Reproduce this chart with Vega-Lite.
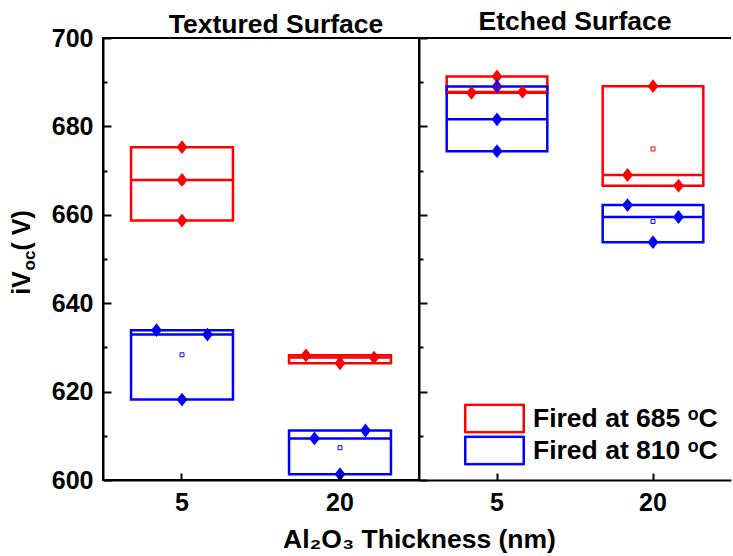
{
  "$schema": "https://vega.github.io/schema/vega-lite/v6.json",
  "padding": {"left": 8, "top": 8, "right": 0, "bottom": 0},
  "background": "white",
  "config": {
    "font": "Liberation Sans",
    "axis": {"grid": false, "labelColor": "black", "titleColor": "black", "domainColor": "black", "tickColor": "black", "domainWidth": 2, "tickWidth": 2}
  },
  "datasets": {
    "ivoc": [
      {"surface": "Textured", "thickness": "5", "fired": "685", "value": 675.3, "jitter": 0},
      {"surface": "Textured", "thickness": "5", "fired": "685", "value": 667.9, "jitter": 0},
      {"surface": "Textured", "thickness": "5", "fired": "685", "value": 658.7, "jitter": 0},
      {"surface": "Textured", "thickness": "5", "fired": "810", "value": 633.9, "jitter": -3},
      {"surface": "Textured", "thickness": "5", "fired": "810", "value": 632.9, "jitter": 3},
      {"surface": "Textured", "thickness": "5", "fired": "810", "value": 618.2, "jitter": 0},
      {"surface": "Textured", "thickness": "20", "fired": "685", "value": 628.2, "jitter": -4},
      {"surface": "Textured", "thickness": "20", "fired": "685", "value": 626.4, "jitter": 0},
      {"surface": "Textured", "thickness": "20", "fired": "685", "value": 627.7, "jitter": 4},
      {"surface": "Textured", "thickness": "20", "fired": "810", "value": 609.4, "jitter": -3},
      {"surface": "Textured", "thickness": "20", "fired": "810", "value": 611.2, "jitter": 3},
      {"surface": "Textured", "thickness": "20", "fired": "810", "value": 601.3, "jitter": 0},
      {"surface": "Etched", "thickness": "5", "fired": "685", "value": 691.3, "jitter": 0},
      {"surface": "Etched", "thickness": "5", "fired": "685", "value": 687.6, "jitter": -3},
      {"surface": "Etched", "thickness": "5", "fired": "685", "value": 687.8, "jitter": 3},
      {"surface": "Etched", "thickness": "5", "fired": "810", "value": 689.0, "jitter": 0},
      {"surface": "Etched", "thickness": "5", "fired": "810", "value": 681.6, "jitter": 0},
      {"surface": "Etched", "thickness": "5", "fired": "810", "value": 674.4, "jitter": 0},
      {"surface": "Etched", "thickness": "20", "fired": "685", "value": 689.1, "jitter": 0},
      {"surface": "Etched", "thickness": "20", "fired": "685", "value": 669.0, "jitter": -3},
      {"surface": "Etched", "thickness": "20", "fired": "685", "value": 666.6, "jitter": 3},
      {"surface": "Etched", "thickness": "20", "fired": "810", "value": 662.2, "jitter": -3},
      {"surface": "Etched", "thickness": "20", "fired": "810", "value": 659.5, "jitter": 3},
      {"surface": "Etched", "thickness": "20", "fired": "810", "value": 653.8, "jitter": 0}
    ]
  },
  "spacing": 0,
  "bounds": "flush",
  "resolve": {"scale": {"stroke": "independent", "fill": "independent"}, "legend": {"stroke": "independent", "fill": "independent"}},
  "hconcat": [
    {
      "width": 316,
      "height": 442,
      "title": {"text": "Textured Surface", "fontSize": 26.5, "fontWeight": "bold", "dx": 15, "offset": -12, "color": "black"},
      "view": {"stroke": "black", "strokeWidth": 2},
      "data": {"name": "ivoc"},
      "transform": [{"filter": "datum.surface === 'Textured'"}],
      "resolve": {"axis": {"y": "independent"}},
      "layer": [
        {
          "transform": [{"aggregate": [{"op": "min", "field": "value", "as": "vmin"}, {"op": "max", "field": "value", "as": "vmax"}], "groupby": ["thickness", "fired"]}],
          "mark": {"type": "rect", "fill": "transparent", "strokeWidth": 2.5},
          "encoding": {
            "x": {"field": "thickness", "type": "ordinal", "sort": ["5", "20"], "scale": {"type": "band", "paddingInner": 0.355, "paddingOuter": 0.1775},
              "axis": {"title": "Al₂O₃ Thickness (nm)", "titleFontSize": 26.5, "titleFontWeight": "bold", "titleX": 316, "titleY": 67, "titleAlign": "center", "titleBaseline": "alphabetic", "labelAngle": 0, "labelFontSize": 25, "labelFontWeight": "bold", "labelPadding": 17, "tickSize": -7}},
            "y": {"field": "vmin", "type": "quantitative", "scale": {"domain": [600, 700], "nice": false, "zero": false},
              "axis": {"title": "iV\u00a0\u00a0\u00a0( V)", "titleFontSize": 25, "titleFontWeight": "bold", "titleAngle": 270, "titleX": -74, "titleY": 214, "titleAlign": "center", "titleBaseline": "alphabetic",
                "values": [600, 610, 620, 630, 640, 650, 660, 670, 680, 690, 700], "labelExpr": "datum.value % 20 === 0 ? datum.label : ''",
                "labelFontSize": 25, "labelFontWeight": "bold", "labelPadding": 18,
                "tickSize": {"condition": {"test": "datum.value % 20 === 0", "value": -8}, "value": -4}}},
            "y2": {"field": "vmax"},
            "stroke": {"field": "fired", "type": "nominal", "scale": {"domain": ["685", "810"], "range": ["#ff0000", "#0000ff"]}, "legend": null}
          }
        },
        {
          "transform": [{"aggregate": [{"op": "median", "field": "value", "as": "vmed"}], "groupby": ["thickness", "fired"]}],
          "mark": {"type": "rect", "fill": "transparent", "strokeWidth": 2.5},
          "encoding": {
            "x": {"field": "thickness", "type": "ordinal", "sort": ["5", "20"]},
            "y": {"field": "vmed", "type": "quantitative", "axis": null},
            "y2": {"field": "vmed"},
            "stroke": {"field": "fired", "type": "nominal", "legend": null}
          }
        },
        {
          "mark": {"type": "point", "shape": "M0,-1.15L0.9,0L0,1.15L-0.9,0Z", "size": 144, "opacity": 1, "strokeWidth": 0, "xOffset": {"expr": "datum.jitter * 8.5"}},
          "encoding": {
            "x": {"field": "thickness", "type": "ordinal", "sort": ["5", "20"]},
            "y": {"field": "value", "type": "quantitative", "axis": null},
            "fill": {"field": "fired", "type": "nominal", "scale": {"domain": ["685", "810"], "range": ["#ff0000", "#0000ff"]}, "legend": null}
          }
        },
        {
          "transform": [{"aggregate": [{"op": "mean", "field": "value", "as": "vmean"}], "groupby": ["thickness", "fired"]}],
          "mark": {"type": "point", "shape": "square", "filled": false, "size": 16, "strokeWidth": 1, "opacity": 1},
          "encoding": {
            "x": {"field": "thickness", "type": "ordinal", "sort": ["5", "20"]},
            "y": {"field": "vmean", "type": "quantitative",
              "axis": {"orient": "right", "title": "oc", "labels": false, "ticks": false, "domain": false, "titleFontSize": 17, "titleFontWeight": "bold", "titleAngle": 270, "titleX": -385, "titleY": 222, "titleAlign": "center", "titleBaseline": "alphabetic"}},
            "stroke": {"field": "fired", "type": "nominal", "legend": null}
          }
        }
      ]
    },
    {
      "width": 312,
      "height": 442,
      "title": {"text": "Etched Surface", "fontSize": 26.5, "fontWeight": "bold", "offset": 2, "color": "black"},
      "view": {"stroke": null},
      "data": {"name": "ivoc"},
      "transform": [{"filter": "datum.surface === 'Etched'"}],
      "layer": [
        {
          "transform": [{"aggregate": [{"op": "min", "field": "value", "as": "vmin"}, {"op": "max", "field": "value", "as": "vmax"}], "groupby": ["thickness", "fired"]}],
          "mark": {"type": "rect", "fill": "transparent", "strokeWidth": 2.5},
          "encoding": {
            "x": {"field": "thickness", "type": "ordinal", "sort": ["5", "20"], "scale": {"type": "band", "paddingInner": 0.355, "paddingOuter": 0.1775},
              "axis": {"title": null, "labelAngle": 0, "labelFontSize": 25, "labelFontWeight": "bold", "labelPadding": 17, "tickSize": -7}},
            "y": {"field": "vmin", "type": "quantitative", "scale": {"domain": [600, 700], "nice": false, "zero": false},
              "axis": {"title": null, "labels": false, "values": [600, 610, 620, 630, 640, 650, 660, 670, 680, 690, 700],
                "tickSize": {"condition": {"test": "datum.value % 20 === 0", "value": -8}, "value": -4}}},
            "y2": {"field": "vmax"},
            "stroke": {"field": "fired", "type": "nominal", "scale": {"domain": ["685", "810"], "range": ["#ff0000", "#0000ff"]},
              "legend": {"title": null, "orient": "bottom-right", "offset": 13, "padding": 0, "symbolType": "M-2,-0.96H2V0.96H-2ZM-1.9,-0.86V0.86H1.9V-0.86Z", "symbolSize": 900, "symbolStrokeWidth": 1, "labelFontSize": 26.5, "labelFontWeight": "bold", "labelColor": "black", "labelOffset": 23, "labelLimit": 400, "rowPadding": -6, "labelExpr": "'Fired at ' + datum.label + ' ᵒC'"}}
          }
        },
        {
          "transform": [{"aggregate": [{"op": "median", "field": "value", "as": "vmed"}], "groupby": ["thickness", "fired"]}],
          "mark": {"type": "rect", "fill": "transparent", "strokeWidth": 2.5},
          "encoding": {
            "x": {"field": "thickness", "type": "ordinal", "sort": ["5", "20"]},
            "y": {"field": "vmed", "type": "quantitative"},
            "y2": {"field": "vmed"},
            "stroke": {"field": "fired", "type": "nominal"}
          }
        },
        {
          "mark": {"type": "point", "shape": "M0,-1.15L0.9,0L0,1.15L-0.9,0Z", "size": 144, "opacity": 1, "strokeWidth": 0, "xOffset": {"expr": "datum.jitter * 8.5"}},
          "encoding": {
            "x": {"field": "thickness", "type": "ordinal", "sort": ["5", "20"]},
            "y": {"field": "value", "type": "quantitative"},
            "fill": {"field": "fired", "type": "nominal", "scale": {"domain": ["685", "810"], "range": ["#ff0000", "#0000ff"]}, "legend": null}
          }
        },
        {
          "transform": [{"aggregate": [{"op": "mean", "field": "value", "as": "vmean"}], "groupby": ["thickness", "fired"]}],
          "mark": {"type": "point", "shape": "square", "filled": false, "size": 16, "strokeWidth": 1, "opacity": 1},
          "encoding": {
            "x": {"field": "thickness", "type": "ordinal", "sort": ["5", "20"]},
            "y": {"field": "vmean", "type": "quantitative"},
            "stroke": {"field": "fired", "type": "nominal"}
          }
        },
        {
          "mark": {"type": "rule", "strokeWidth": 2, "color": "black"},
          "encoding": {"y": {"datum": 700}}
        }
      ]
    }
  ]
}
